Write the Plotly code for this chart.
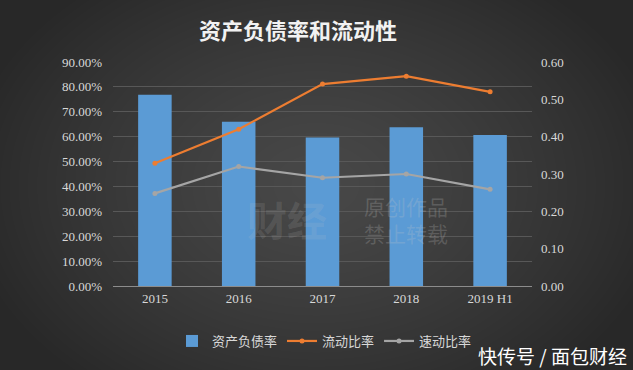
import base64, struct, zlib
import numpy as np
import plotly.graph_objects as go

categories = ["2015", "2016", "2017", "2018", "2019 H1"]
debt_ratio = [0.768, 0.660, 0.597, 0.638, 0.607]
current_ratio = [0.329, 0.420, 0.541, 0.562, 0.520]
quick_ratio = [0.248, 0.320, 0.290, 0.300, 0.259]
left_ticks = [i / 10 for i in range(10)]
right_ticks = [i / 10 for i in range(7)]

W, H = 633, 370

# radial gradient background as a PNG data URI
yy, xx = np.mgrid[0:H, 0:W]
d = np.sqrt(((xx - 316) / 360) ** 2 + ((yy - 185) / 260) ** 2)
d = np.clip(d, 0, 1)
val = (72 - (72 - 40) * d ** 1.3).astype(np.uint8)
raw = b"".join(b"\x00" + bytes(np.repeat(val[r][:, None], 3, axis=1).flatten()) for r in range(H))
def chunk(t, data):
    c = struct.pack(">I", len(data)) + t + data
    return c + struct.pack(">I", zlib.crc32(t + data) & 0xffffffff)
png = b"\x89PNG\r\n\x1a\n" + chunk(b"IHDR", struct.pack(">IIBBBBB", W, H, 8, 2, 0, 0, 0)) + chunk(b"IDAT", zlib.compress(raw, 9)) + chunk(b"IEND", b"")
bg = "data:image/png;base64," + base64.b64encode(png).decode()

tick_font = dict(family="Liberation Serif, DejaVu Serif, serif", size=13, color="#d8d8d8")
cjk = "Noto Sans CJK SC, sans-serif"

fig = go.Figure()
fig.add_trace(go.Bar(x=categories, y=debt_ratio, name="资产负债率", marker=dict(color="#5b9bd5", line=dict(width=0)), width=0.4, yaxis="y"))
fig.add_trace(go.Scatter(x=categories, y=current_ratio, name="流动比率", mode="lines+markers",
                         line=dict(color="#ed7d31", width=2.2), marker=dict(size=5, color="#ed7d31"), yaxis="y2"))
fig.add_trace(go.Scatter(x=categories, y=quick_ratio, name="速动比率", mode="lines+markers",
                         line=dict(color="#a5a5a5", width=2.2), marker=dict(size=5, color="#a5a5a5"), yaxis="y2"))

fig.update_layout(
    width=W, height=H,
    margin=dict(l=113, r=101, t=62, b=84),
    paper_bgcolor="#3a3a3a", plot_bgcolor="rgba(0,0,0,0)",
    images=[dict(source=bg, xref="paper", yref="paper", x=-113/419, y=1+62/224, sizex=W/419, sizey=H/224,
                 sizing="stretch", layer="below", xanchor="left", yanchor="top")],
    title=dict(text="<b>资产负债率和流动性</b>", x=298/W, xanchor="center", y=1-31/H, yanchor="middle",
               font=dict(family=cjk, size=22, color="#f2f2f2")),
    xaxis=dict(type="category", showgrid=False, showline=True, linecolor="#8c8c8c", linewidth=1,
               tickfont=tick_font, ticks=""),
    yaxis=dict(range=[0, 0.9], tickvals=left_ticks, tickformat=".2%", showgrid=True, gridcolor="#585858",
               gridwidth=1, zeroline=False, tickfont=tick_font, ticklabelstandoff=10),
    yaxis2=dict(range=[0, 0.6], tickvals=right_ticks, tickformat=".2f", overlaying="y", side="right",
                showgrid=False, zeroline=False, tickfont=tick_font, ticklabelstandoff=8),
    showlegend=True,
    legend=dict(orientation="h", x=(172 - 113) / 419, xanchor="left", y=(286 - 341) / 224, yanchor="middle",
                font=dict(family=cjk, size=13, color="#d8d8d8"), bgcolor="rgba(0,0,0,0)", itemwidth=30,
                tracegroupgap=0),
    bargap=0.6,
    annotations=[
        dict(text="快传号 / 面包财经", xref="paper", yref="paper", x=(629 - 113) / 419, y=(286 - 355) / 224,
             xanchor="right", yanchor="middle", showarrow=False, font=dict(family=cjk, size=19, color="#ffffff")),
        dict(text="原创作品<br>禁止转载", xref="paper", yref="paper", x=(362 - 113) / 419, y=(286 - 219) / 224,
             xanchor="left", yanchor="middle", showarrow=False, align="left",
             font=dict(family=cjk, size=21, color="rgba(200,200,200,0.22)")),
        dict(text="<b>财经</b>", xref="paper", yref="paper", x=(245 - 113) / 419, y=(286 - 219) / 224,
             xanchor="left", yanchor="middle", showarrow=False,
             font=dict(family=cjk, size=40, color="rgba(200,200,200,0.15)")),
    ],
)

fig.write_html("out.html", config={"displayModeBar": False},
               post_script="document.body.style.margin='0';document.body.style.overflow='hidden';")
